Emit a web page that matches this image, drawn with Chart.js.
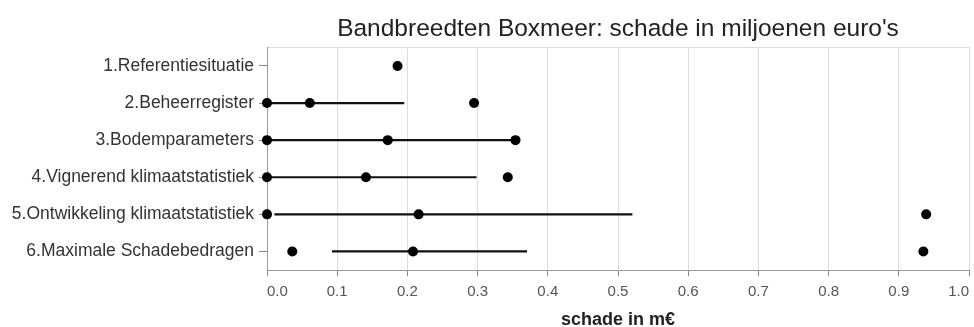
<!DOCTYPE html>
<html>
<head>
<meta charset="utf-8">
<script src="https://cdn.jsdelivr.net/npm/chart.js@4"></script>
<style>
  html, body { margin: 0; padding: 0; background: #fff; }
</style>
</head>
<body>
<canvas id="chart" width="974" height="327"></canvas>
<script>
// categorieën en waarden (m€)
const categories = [
  '1.Referentiesituatie',
  '2.Beheerregister',
  '3.Bodemparameters',
  '4.Vignerend klimaatstatistiek',
  '5.Ontwikkeling klimaatstatistiek',
  '6.Maximale Schadebedragen'
];
const lowValues  = [null, 0.0, 0.0, 0.0, 0.0, 0.036];
const midValues  = [0.186, 0.061, 0.172, 0.141, 0.216, 0.208];
const highValues = [null, 0.295, 0.354, 0.343, 0.939, 0.935];
const rangeLow   = [null, 0.0, 0.0, 0.0, 0.011, 0.093];
const rangeHigh  = [null, 0.195, 0.354, 0.298, 0.52, 0.37];
const xTicks = [0, 0.1, 0.2, 0.3, 0.4, 0.5, 0.6, 0.7, 0.8, 0.9, 1.0];

const FONT = '"Liberation Sans", Arial, sans-serif';

const ranges = rangeLow.map((lo, i) => (lo === null ? null : [lo, rangeHigh[i]]));

const pointStyle = {
  type: 'line',
  showLine: false,
  pointRadius: 5,
  pointHoverRadius: 5,
  pointBackgroundColor: '#000',
  pointBorderColor: '#000',
  pointBorderWidth: 0,
  clip: false,
  order: 1
};

new Chart(document.getElementById('chart'), {
  type: 'bar',
  data: {
    labels: categories,
    datasets: [
      {
        label: 'bandbreedte',
        data: ranges,
        backgroundColor: '#111',
        barThickness: 1.5,
        order: 2
      },
      Object.assign({ label: 'min', data: lowValues }, pointStyle),
      Object.assign({ label: 'mid', data: midValues }, pointStyle),
      Object.assign({ label: 'max', data: highValues }, pointStyle)
    ]
  },
  options: {
    responsive: false,
    animation: false,
    indexAxis: 'y',
    layout: { padding: { top: 0, right: 2, bottom: -2, left: 0 } },
    plugins: {
      legend: { display: false },
      tooltip: { enabled: false },
      title: {
        display: true,
        fullSize: false,
        text: "Bandbreedten Boxmeer: schade in miljoenen euro's",
        color: '#222',
        font: { family: FONT, size: 24.5, weight: 'normal' },
        padding: { top: 15, bottom: 3 }
      }
    },
    scales: {
      x: {
        type: 'linear',
        min: 0,
        max: 1,
        afterBuildTicks: (s) => { s.ticks = xTicks.map(v => ({ value: v })); },
        afterFit: (s) => { s.paddingRight = 0; },
        ticks: {
          align: 'inner',
          color: '#555',
          font: { family: FONT, size: 15, lineHeight: 1 },
          padding: 8.5,
          callback: (v) => Number(v).toFixed(1)
        },
        grid: { color: '#ddd', tickColor: '#888', tickLength: 6 },
        border: { color: '#999' },
        title: {
          display: true,
          text: 'schade in m€',
          color: '#222',
          font: { family: FONT, size: 18, weight: 'bold', lineHeight: 1 },
          padding: { top: 3, bottom: 0 }
        }
      },
      xTop: {
        type: 'linear',
        position: 'top',
        min: 0,
        max: 1,
        afterFit: (s) => { s.height = 0; },
        ticks: { display: false },
        grid: { display: false },
        border: { display: true, color: '#ddd' }
      },
      y: {
        type: 'category',
        offset: true,
        afterFit: (s) => { s.width = 267; },
        ticks: {
          color: '#333',
          font: { family: FONT, size: 17.5 },
          padding: 5
        },
        grid: { offset: false, drawOnChartArea: false, tickColor: '#888', tickLength: 8 },
        border: { color: '#999' }
      }
    }
  }
});
</script>
</body>
</html>
